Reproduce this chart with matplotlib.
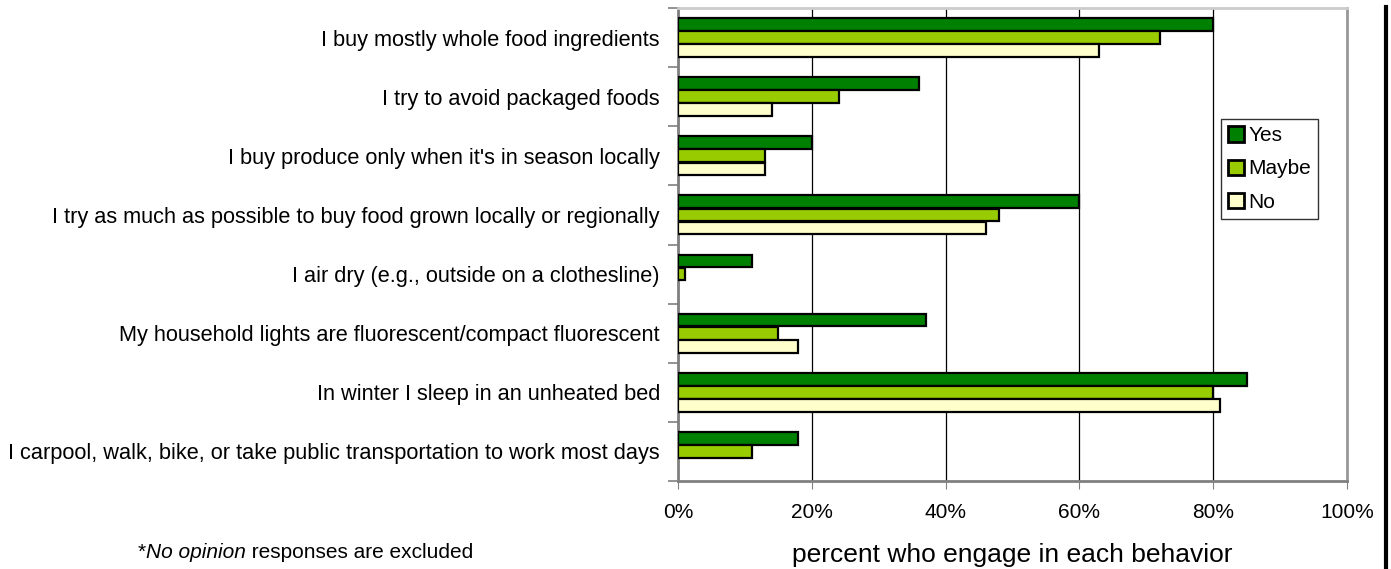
import numpy as np
import matplotlib
matplotlib.use("Agg")
import matplotlib.pyplot as plt
from matplotlib.lines import Line2D

plt.rcParams['font.family'] = ['Liberation Sans', 'DejaVu Sans']

# --- Data ---
behaviors = [
    "I buy mostly whole food ingredients",
    "I try to avoid packaged foods",
    "I buy produce only when it's in season locally",
    "I try as much as possible to buy food grown locally or regionally",
    "I air dry (e.g., outside on a clothesline)",
    "My household lights are fluorescent/compact fluorescent",
    "In winter I sleep in an unheated bed",
    "I carpool, walk, bike, or take public transportation to work most days",
]
yes_pct = [80, 36, 20, 60, 11, 37, 85, 18]
maybe_pct = [72, 24, 13, 48, 1, 15, 80, 11]
no_pct = [63, 14, 13, 46, 0, 18, 81, 0]

series_names = ["Yes", "Maybe", "No"]
series_colors = ["#008000", "#99CC00", "#FFFFCC"]

# --- Figure ---
fig = plt.figure(figsize=(13.91, 5.69), dpi=100)
ax = fig.add_axes([678 / 1391, 1 - 481 / 569, (1347 - 678) / 1391, (481 - 8) / 569])

y = np.arange(len(behaviors))
h = 0.215
step = 0.222
for i, (vals, name, col) in enumerate(zip([yes_pct, maybe_pct, no_pct], series_names, series_colors)):
    vals = np.array(vals)
    mask = vals > 0
    ax.barh(y[mask] + (i - 1) * step, vals[mask], height=h, color=col,
            edgecolor="black", linewidth=1.6, label=name, zorder=3)

ax.set_xlim(0, 100)
ax.set_ylim(len(behaviors) - 0.5, -0.5)

ax.set_xticks(np.arange(0, 101, 20))
ax.set_xticklabels([f"{v}%" for v in range(0, 101, 20)], fontsize=15)
ax.tick_params(axis="x", length=6, color="#808080", pad=10)
ax.xaxis.grid(True, color="black", linewidth=0.9, zorder=0)

# group boundaries as major ticks, labels on minor ticks
ax.set_yticks(np.arange(-0.5, len(behaviors), 1))
ax.set_yticklabels([])
ax.tick_params(axis="y", which="major", length=7, color="#808080", width=1.2)
ax.set_yticks(y, minor=True)
ax.set_yticklabels(behaviors, minor=True, fontsize=15.7)
ax.tick_params(axis="y", which="minor", length=0, pad=13)

for s in ax.spines.values():
    s.set_color("#999999")
    s.set_linewidth(2)
ax.spines["left"].set_color("#808080")
ax.spines["bottom"].set_color("#808080")
ax.spines["top"].set_color("#cccccc")

leg = ax.legend(loc="upper left", bbox_to_anchor=((1221 - 678) / 669, 1 - (119 - 8) / 473),
                fontsize=15, frameon=True, fancybox=False, edgecolor="black",
                handlelength=0.75, handleheight=0.75, handletextpad=0.2,
                borderpad=0.35, labelspacing=0.68, borderaxespad=0)
leg.get_frame().set_linewidth(1.0)
for p in leg.get_patches():
    p.set_linewidth(2)

ax.set_xlabel("percent who engage in each behavior", fontsize=19, labelpad=15)

# footnote with italic part
renderer = fig.canvas.get_renderer()
x0 = 138 / 1391
yf = 1 - 552 / 569
parts = [("*", "normal"), ("No opinion", "italic"), (" responses are excluded", "normal")]
for txt, style in parts:
    t = fig.text(x0, yf, txt, fontsize=15, style=style, va="center", ha="left")
    bb = t.get_window_extent(renderer=renderer)
    x0 += bb.width / fig.bbox.width

# thick black border line at the right
fig.add_artist(Line2D([1386 / 1391, 1386 / 1391], [0, 1 - 7 / 569], color="black", linewidth=3,
                      transform=fig.transFigure))

fig.savefig("out.png", dpi=100)
